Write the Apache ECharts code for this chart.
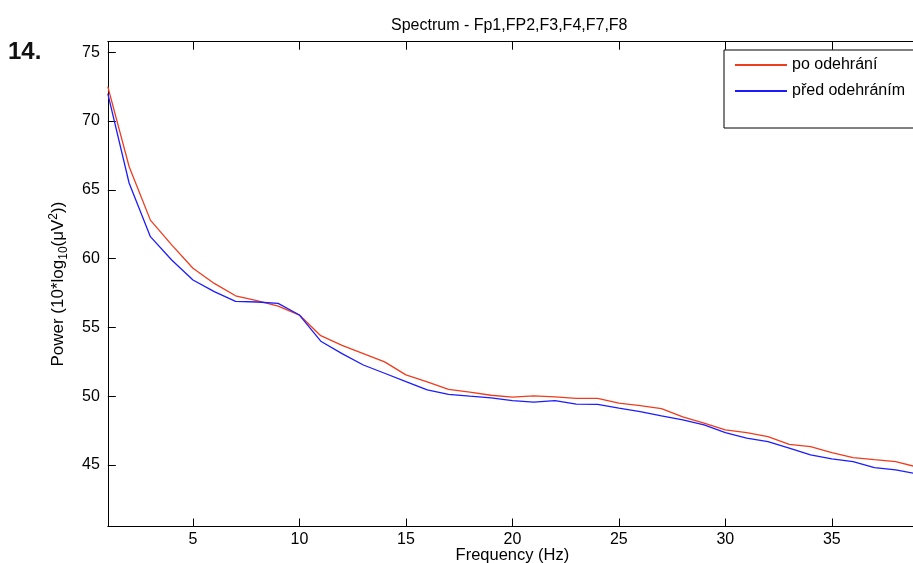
<!DOCTYPE html>
<html><head><meta charset="utf-8">
<script src="https://cdn.jsdelivr.net/npm/echarts@6/dist/echarts.min.js"></script>
<style>html,body{margin:0;padding:0;background:#fff}#c{width:913px;height:563px}</style>
</head><body><div id="c"></div>
<script>
const freqHz = [1,2,3,4,5,6,7,8,9,10,11,12,13,14,15,16,17,18,19,20,21,22,23,24,25,26,27,28,29,30,31,32,33,34,35,36,37,38,39];
const poOdehrani = [72.5,66.7,62.8,61.0,59.3,58.2,57.3,56.95,56.55,55.9,54.4,53.7,53.1,52.5,51.55,51.05,50.5,50.3,50.07,49.93,50.03,49.95,49.85,49.85,49.5,49.32,49.1,48.5,48.04,47.55,47.35,47.07,46.5,46.34,45.9,45.54,45.39,45.25,44.85];
const predOdehranim = [72.0,65.5,61.6,59.9,58.45,57.6,56.9,56.85,56.75,55.9,54.0,53.1,52.27,51.67,51.06,50.46,50.14,50.0,49.88,49.68,49.57,49.68,49.42,49.4,49.13,48.88,48.57,48.28,47.92,47.36,46.95,46.7,46.22,45.73,45.44,45.25,44.81,44.64,44.35];
const xTickLabels = [5,10,15,20,25,30,35];
const yTickLabels = [45,50,55,60,65,70,75];
const seriesNames = ['po odehrání','před odehráním'];
const titleText = 'Spectrum - Fp1,FP2,F3,F4,F7,F8';
const xName = 'Frequency (Hz)';
const panelLabel = '14.';

const FONT = "'Liberation Sans', Arial, sans-serif";
const chart = echarts.init(document.getElementById('c'), null, {renderer:'canvas'});
const pairs = arr => freqHz.map((f,i)=>[f,arr[i]]);
const xFmt = v => xTickLabels.includes(Math.round(v*1000)/1000) ? String(v) : '';
const yFmt = v => yTickLabels.includes(Math.round(v*1000)/1000) ? String(v) : '';
const axisCommon = {
  axisLine:{show:true, onZero:false, lineStyle:{color:'#000', width:1}},
  axisTick:{show:true, inside:true, length:8, lineStyle:{color:'#000', width:1}},
  splitLine:{show:false}
};
chart.setOption({
  animation:false,
  backgroundColor:'#fff',
  title:{text:titleText, left:386, top:13, textStyle:{fontFamily:FONT, fontSize:16, fontWeight:'normal', color:'#000'}},
  graphic:[{type:'text', left:8, top:40, style:{text:panelLabel, font:"bold 24px 'Liberation Sans', Arial, sans-serif", fill:'#111'}}],
  legend:{
    left:724, top:50, orient:'vertical', padding:[6,60,28,11], itemGap:8,
    itemWidth:52, itemHeight:2, icon:'rect',
    borderColor:'#000', borderWidth:1, backgroundColor:'#fff', borderRadius:0,
    textStyle:{fontFamily:FONT, fontSize:16, lineHeight:18, color:'#000'},
    data:seriesNames
  },
  grid:{left:107.8, right:-4, top:41.7, bottom:36.5, containLabel:false, outerBoundsMode:'none'},
  xAxis:[
    Object.assign({type:'value', min:1, max:39, splitNumber:8, position:'bottom',
      name:xName, nameLocation:'middle', nameGap:20, nameMoveOverlap:false,
      nameTextStyle:{fontFamily:FONT, fontSize:16.5, color:'#000'},
      axisLabel:{fontFamily:FONT, fontSize:16, color:'#000', margin:5, formatter:xFmt, showMinLabel:false, showMaxLabel:false}}, axisCommon),
    Object.assign({type:'value', min:1, max:39, splitNumber:8, position:'top', axisLabel:{show:false}}, axisCommon)
  ],
  yAxis:[
    Object.assign({type:'value', min:40.53, max:75.77, splitNumber:7, position:'left',
      name:'{a|Power (10*log}{s|10}{a|(μV}{p|2}{a|))}', nameLocation:'middle', nameGap:38, nameMoveOverlap:false,
      nameTextStyle:{rich:{
        a:{fontFamily:FONT, fontSize:17, color:'#000', lineHeight:22, verticalAlign:'middle'},
        s:{fontFamily:FONT, fontSize:12, color:'#000', lineHeight:22, verticalAlign:'bottom'},
        p:{fontFamily:FONT, fontSize:12, color:'#000', lineHeight:22, verticalAlign:'top'}
      }},
      axisLabel:{fontFamily:FONT, fontSize:16, color:'#000', margin:8, formatter:yFmt, showMinLabel:false, showMaxLabel:false}}, axisCommon)
  ],
  series:[
    {name:seriesNames[0], type:'line', data:pairs(poOdehrani), showSymbol:false, color:'#f03c1e', lineStyle:{width:1.3, color:'#f03c1e'}, z:3},
    {name:seriesNames[1], type:'line', data:pairs(predOdehranim), showSymbol:false, color:'#1c1cff', lineStyle:{width:1.3, color:'#1c1cff'}, z:4}
  ]
});
</script></body></html>
